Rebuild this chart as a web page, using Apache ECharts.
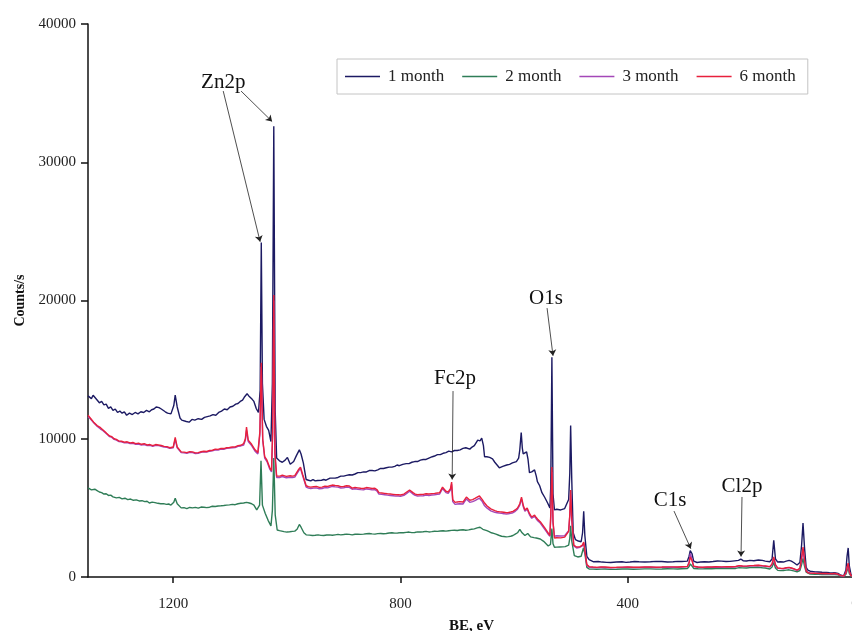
<!DOCTYPE html>
<html>
<head>
<meta charset="utf-8">
<script src="https://cdn.jsdelivr.net/npm/echarts@6/dist/echarts.min.js"></script>
<style>html,body{margin:0;padding:0;background:#fff;overflow:hidden;}#c{width:852px;height:631px;}</style>
</head>
<body>
<div id="c"></div>
<script>
const seriesNames = ['1 month', '2 month', '3 month', '6 month'];
const xTicks = [0, 400, 800, 1200];

const month1 = [[1350,13100],[1347,13000],[1344,12900],[1341,13150],[1338,13050],[1334,12800],[1330,12600],[1326,12700],[1322,12450],[1318,12500],[1314,12200],[1310,12300],[1306,12050],[1302,12150],[1298,11900],[1294,12000],[1290,11850],[1286,11950],[1282,11700],[1277,11850],[1272,11750],[1267,11900],[1262,11800],[1257,11950],[1252,11900],[1247,12050],[1242,11950],[1238,12100],[1234,12150],[1230,12300],[1225,12250],[1221,12150],[1218,12050],[1214,11950],[1210,11850],[1207,11900],[1204,11800],[1199,12400],[1196.5,13150],[1193,12300],[1188,11500],[1185,11350],[1182,11300],[1177,11250],[1172,11200],[1167,11400],[1162,11350],[1156,11450],[1150,11400],[1145,11550],[1140,11600],[1135,11650],[1130,11750],[1125,11700],[1120,11900],[1115,12000],[1110,12150],[1105,12100],[1100,12300],[1095,12350],[1090,12500],[1086,12550],[1082,12700],[1078,12800],[1075,13000],[1072,13100],[1070,13250],[1067,13100],[1064,13000],[1061,12850],[1058,12700],[1054,12200],[1050,11900],[1047,13500],[1045,24200],[1043,14000],[1040,11400],[1036,10900],[1032,10600],[1028,9800],[1025.5,14000],[1023,32600],[1020.5,12000],[1018,8600],[1013,8400],[1008,8300],[1003,8450],[999,8650],[994,8150],[988,8350],[983,8800],[978,9200],[975,8900],[971,8250],[966,7050],[962,7000],[958,6950],[954,7050],[950,6950],[946,6980],[943,6900],[939,7000],[935,7050],[931,7000],[928,7100],[924,7150],[920,7150],[915,7150],[910,7200],[905,7300],[900,7300],[895,7350],[890,7400],[885,7380],[880,7450],[875,7550],[870,7550],[865,7600],[860,7600],[855,7700],[850,7700],[845,7680],[840,7750],[835,7850],[830,7850],[825,7900],[820,7950],[815,7950],[810,8000],[806,8100],[802,8050],[796,8150],[790,8200],[785,8200],[780,8300],[775,8350],[770,8350],[765,8450],[760,8500],[755,8500],[750,8600],[744,8700],[740,8750],[735,8850],[730,8850],[725,8950],[720,9000],[715,9100],[710,9050],[705,9150],[700,9150],[695,9200],[690,9300],[685,9350],[678,9250],[674,9400],[670,9500],[667,9600],[664,9900],[660,9850],[657,10050],[654,9500],[652,8700],[648,8700],[643,8650],[638,8550],[634,8300],[630,8100],[626,7900],[620,8000],[613,8100],[608,8150],[603,8250],[596,8350],[592,8600],[590,9200],[587.5,10450],[585.5,9300],[584,8900],[581,8900],[578,9050],[575.5,8500],[573,7550],[569,7600],[564,7750],[561,7300],[559,6900],[555,6600],[551,6100],[546,5750],[541,5350],[537,5000],[535.5,6500],[533.5,15900],[531.5,6000],[529,4850],[525,4900],[522,4950],[518,4850],[515,4900],[511,4950],[508,5000],[504,5600],[502,7500],[500.5,10950],[498.5,7000],[496,3200],[492,2700],[487,2600],[482,2550],[479.5,3200],[477.5,4750],[475.5,3000],[472,1500],[468,1250],[460,1100],[452,1120],[445,1080],[437,1060],[430,1050],[420,1080],[410,1100],[403,1060],[396,1080],[388,1120],[380,1100],[370,1080],[360,1100],[350,1130],[340,1120],[330,1090],[320,1100],[312,1130],[305,1120],[295,1150],[292,1500],[290,1900],[287,1700],[284,1150],[278,1050],[272,1080],[265,1100],[257,1090],[250,1120],[242,1160],[235,1150],[227,1120],[220,1130],[212,1170],[205,1200],[201,1300],[197,1180],[191,1160],[185,1200],[178,1180],[170,1230],[163,1200],[158,1150],[150,1100],[146,1300],[143,2650],[140,1300],[136,1080],[131,1100],[126,1080],[121,1150],[116,1200],[112,1150],[108,1050],[102,870],[97,1050],[94,2300],[91.5,3900],[89,2200],[86,700],[83,500],[79,420],[76,380],[70,370],[65,360],[58,340],[50,330],[45,310],[40,300],[36,320],[33,330],[30,260],[26,150],[20,80],[16,500],[14,1500],[12,2100],[10,800],[7,150],[3,100]];

const month2 = [[1350,6450],[1347,6380],[1344,6300],[1341,6400],[1338,6350],[1334,6250],[1330,6150],[1326,6100],[1322,6000],[1318,6020],[1314,5900],[1310,5920],[1306,5800],[1303,5850],[1300,5720],[1295,5760],[1290,5650],[1285,5700],[1280,5600],[1275,5640],[1270,5550],[1265,5580],[1260,5500],[1255,5520],[1250,5450],[1246,5480],[1242,5350],[1237,5420],[1232,5380],[1227,5330],[1222,5300],[1217,5310],[1212,5250],[1208,5280],[1204,5200],[1199,5400],[1196.5,5700],[1193,5300],[1186,5000],[1181,5020],[1176,4950],[1171,5030],[1166,5000],[1161,5040],[1156,4980],[1151,5060],[1146,5050],[1141,5020],[1136,5050],[1131,5120],[1126,5100],[1121,5140],[1116,5150],[1111,5170],[1106,5200],[1101,5220],[1096,5250],[1091,5230],[1086,5300],[1081,5330],[1076,5350],[1071,5400],[1066,5350],[1062,5300],[1058,5200],[1053,4850],[1048,5200],[1045.5,8400],[1043,5200],[1038,4600],[1033,4100],[1028,3700],[1025.5,4800],[1023,8600],[1020.5,4500],[1017,3400],[1013,3350],[1010,3300],[1005,3280],[1000,3250],[995,3270],[990,3300],[986,3320],[982,3450],[978,3800],[975,3600],[970,3200],[966,3050],[960,3030],[955,3000],[950,3020],[945,3050],[940,3010],[935,3000],[930,3040],[925,3050],[920,3020],[915,3050],[910,3080],[905,3050],[900,3070],[895,3100],[890,3080],[885,3050],[880,3090],[875,3100],[870,3080],[865,3100],[860,3130],[855,3150],[850,3120],[845,3100],[840,3140],[835,3150],[830,3130],[825,3150],[820,3180],[815,3200],[810,3170],[805,3180],[800,3210],[795,3200],[790,3230],[785,3250],[780,3210],[775,3220],[770,3260],[765,3250],[760,3270],[755,3300],[750,3260],[745,3280],[740,3310],[735,3300],[730,3330],[725,3350],[720,3320],[715,3350],[710,3370],[705,3380],[700,3360],[695,3400],[690,3420],[685,3380],[680,3410],[675,3450],[670,3480],[665,3550],[660,3600],[655,3450],[652,3400],[648,3350],[644,3280],[640,3200],[636,3150],[632,3100],[627,3020],[622,2950],[618,2930],[614,2900],[610,2920],[606,2950],[602,3000],[598,3100],[594,3200],[590,3450],[586,3200],[581,3000],[576,3150],[571,2900],[568,2900],[565,2850],[561,2820],[558,2800],[554,2750],[551,2700],[548,2580],[545,2450],[540,2250],[536,2350],[533.5,3500],[531.5,2400],[529,2150],[525,2160],[520,2170],[515,2180],[510,2200],[507,2210],[504,2300],[502,2800],[500.5,3700],[498.5,2600],[494,1550],[488,1450],[482,1500],[478,2100],[475.5,1700],[472,700],[468,580],[461,570],[455,560],[447,570],[440,580],[430,550],[420,560],[410,575],[400,580],[390,560],[380,570],[370,585],[360,590],[350,570],[340,580],[330,595],[320,590],[312,580],[305,600],[295,610],[292,760],[290,950],[287,800],[284,620],[276,600],[268,590],[260,610],[252,600],[245,620],[235,610],[225,630],[217,610],[210,620],[204,680],[201,760],[198,660],[191,650],[185,680],[178,690],[170,700],[163,670],[158,650],[150,580],[146,720],[143,1050],[140,650],[136,480],[131,460],[126,470],[121,500],[116,520],[112,480],[108,440],[102,380],[97,470],[94,900],[91.5,1350],[89,800],[86,350],[83,220],[79,210],[76,200],[70,195],[65,190],[58,185],[50,180],[45,175],[40,170],[36,185],[33,200],[30,150],[26,90],[20,40],[16,200],[14,450],[12,650],[10,250],[7,60],[3,50]];

const month3 = [[1350,11600],[1346,11450],[1343,11350],[1340,11150],[1337,11050],[1334,10900],[1331,10850],[1328,10700],[1324,10600],[1320,10450],[1316,10300],[1312,10150],[1308,10100],[1304,9950],[1300,9900],[1296,9800],[1291,9780],[1286,9700],[1281,9720],[1276,9650],[1271,9670],[1266,9600],[1261,9620],[1256,9550],[1251,9580],[1246,9500],[1241,9530],[1236,9450],[1231,9520],[1226,9500],[1221,9460],[1216,9400],[1211,9380],[1206,9300],[1200,9350],[1196.5,9950],[1193,9350],[1186,9000],[1181,8980],[1176,8950],[1171,9020],[1166,9000],[1161,8930],[1156,8950],[1151,9010],[1146,9050],[1141,9030],[1136,9100],[1131,9120],[1126,9200],[1121,9180],[1116,9250],[1111,9240],[1106,9300],[1101,9320],[1096,9350],[1091,9360],[1086,9450],[1081,9480],[1076,9550],[1073,9900],[1071,10600],[1068,9800],[1062,9500],[1056,9100],[1051,8900],[1047.5,10300],[1045,15200],[1042.5,9900],[1039,8600],[1035,8350],[1030,7800],[1027,7600],[1025,10300],[1023,20000],[1021,8900],[1018,7200],[1015,7230],[1012,7200],[1008,7270],[1005,7250],[1001,7180],[998,7150],[994,7220],[990,7200],[986,7230],[983,7250],[979,7700],[976,7850],[972,7300],[966,6500],[962,6430],[958,6400],[953,6430],[948,6450],[943,6380],[938,6400],[933,6470],[928,6450],[924,6500],[920,6550],[915,6520],[910,6500],[905,6440],[900,6450],[895,6500],[890,6480],[885,6350],[880,6380],[875,6350],[870,6320],[865,6300],[860,6370],[855,6350],[850,6300],[845,6320],[841,6200],[838,6000],[833,5980],[828,5950],[823,5920],[818,5900],[813,5880],[808,5850],[804,5860],[800,5830],[794,5900],[789,6050],[784,6200],[778,6000],[774,5900],[770,5850],[765,5870],[760,5880],[755,5920],[750,5900],[745,5930],[740,5950],[735,5980],[731,6000],[726,6400],[720,6100],[716,6050],[712,6300],[710,6700],[708,5450],[704,5250],[700,5280],[696,5300],[693,5250],[690,5280],[684,5650],[678,5400],[673,5450],[669,5520],[666,5600],[661,5700],[656,5450],[652,5150],[648,5000],[645,4900],[641,4780],[638,4700],[634,4680],[630,4650],[626,4620],[622,4600],[618,4580],[614,4550],[610,4570],[606,4600],[602,4650],[598,4750],[594,4900],[590,5200],[587,5650],[584,5100],[581,4750],[577,4900],[573,4500],[569,4250],[564,4380],[561,4200],[558,4050],[554,3900],[551,3800],[546,3450],[541,3150],[537,2950],[535.5,4300],[533.5,7600],[531.5,3900],[529,2950],[525,2980],[522,3000],[518,2970],[515,2950],[511,2980],[508,3000],[504,3350],[502,4400],[500.5,6000],[498.5,4100],[495,2250],[490,2100],[484,2150],[480,2250],[477.5,2450],[475,1750],[472,850],[468,700],[461,690],[455,680],[447,700],[440,690],[430,670],[420,680],[410,695],[400,700],[390,685],[380,690],[370,700],[360,710],[350,690],[340,700],[330,715],[320,710],[312,700],[305,720],[295,760],[292,1100],[290,1700],[287,1300],[284,760],[276,700],[268,690],[260,710],[252,700],[245,720],[235,710],[225,730],[217,720],[210,740],[204,800],[201,900],[198,780],[191,770],[185,800],[178,810],[170,830],[163,800],[158,780],[150,730],[146,900],[143,1350],[140,850],[136,630],[131,610],[126,600],[121,650],[116,680],[112,630],[108,580],[102,480],[97,600],[94,1300],[91.5,2000],[89,1200],[86,430],[83,290],[79,280],[76,270],[70,260],[65,250],[58,245],[50,240],[45,235],[40,230],[36,250],[33,260],[30,190],[26,110],[20,50],[16,280],[14,650],[12,950],[10,380],[7,90],[3,70]];

const month6 = [[1350,11700],[1348,11620],[1346,11500],[1343,11420],[1340,11200],[1337,11150],[1334,10950],[1331,10900],[1328,10800],[1324,10650],[1320,10500],[1316,10350],[1312,10200],[1308,10150],[1304,10000],[1300,9950],[1296,9850],[1291,9820],[1286,9750],[1281,9780],[1276,9700],[1271,9730],[1266,9650],[1261,9680],[1256,9600],[1251,9640],[1246,9550],[1241,9580],[1236,9500],[1231,9580],[1226,9550],[1221,9510],[1216,9450],[1211,9430],[1206,9350],[1200,9400],[1196.5,10100],[1193,9400],[1186,9050],[1181,9030],[1176,9000],[1171,9070],[1166,9050],[1161,8980],[1156,9000],[1151,9060],[1146,9100],[1141,9080],[1136,9150],[1131,9170],[1126,9250],[1121,9230],[1116,9300],[1111,9290],[1106,9350],[1101,9370],[1096,9400],[1091,9410],[1086,9500],[1081,9530],[1076,9650],[1073,10000],[1071,10850],[1068,9900],[1062,9600],[1056,9200],[1051,9000],[1047.5,10500],[1045,15500],[1042.5,10000],[1039,8700],[1035,8450],[1030,7900],[1027,7700],[1025,10500],[1023,20400],[1021,9000],[1018,7300],[1015,7330],[1012,7300],[1008,7370],[1005,7350],[1001,7280],[998,7250],[994,7320],[990,7300],[986,7330],[983,7350],[979,7800],[976,7950],[972,7400],[966,6600],[962,6530],[958,6500],[953,6530],[948,6550],[943,6480],[938,6500],[933,6570],[928,6550],[924,6600],[920,6650],[915,6620],[910,6600],[905,6540],[900,6550],[895,6600],[890,6580],[885,6430],[880,6480],[875,6450],[870,6420],[865,6400],[860,6470],[855,6450],[850,6400],[845,6420],[841,6300],[838,6100],[833,6080],[828,6050],[823,6020],[818,6000],[813,5980],[808,5950],[804,5960],[800,5930],[794,6000],[789,6150],[784,6290],[778,6100],[774,6000],[770,5950],[765,5970],[760,5980],[755,6020],[750,6000],[745,6030],[740,6050],[735,6080],[731,6100],[726,6500],[720,6200],[716,6150],[712,6400],[710,6870],[708,5600],[704,5400],[700,5430],[696,5450],[693,5400],[690,5420],[684,5780],[678,5550],[673,5600],[669,5680],[666,5750],[661,5860],[656,5600],[652,5350],[648,5150],[645,5050],[641,4930],[638,4850],[634,4800],[630,4750],[626,4720],[622,4700],[618,4680],[614,4650],[610,4670],[606,4700],[602,4750],[598,4850],[594,4990],[590,5300],[587,5780],[584,5200],[581,4840],[577,4990],[573,4600],[569,4340],[564,4480],[561,4300],[558,4150],[554,4000],[551,3900],[546,3550],[541,3250],[537,3000],[535.5,4500],[533.5,7950],[531.5,4000],[529,2820],[525,2840],[522,2850],[518,2830],[515,2850],[511,2880],[508,2900],[504,3300],[502,4500],[500.5,6300],[498.5,4200],[495,2300],[490,2170],[484,2200],[480,2300],[477.5,2530],[475,1800],[472,900],[468,750],[461,720],[455,700],[447,730],[440,720],[430,690],[420,700],[410,715],[400,720],[390,700],[380,710],[370,720],[360,730],[350,710],[340,720],[330,735],[320,730],[312,720],[305,740],[295,760],[292,1000],[290,1450],[287,1200],[284,780],[276,720],[268,710],[260,730],[252,720],[245,740],[235,730],[225,750],[217,740],[210,760],[204,820],[201,950],[198,800],[191,790],[185,820],[178,830],[170,850],[163,820],[158,800],[150,750],[146,950],[143,1450],[140,900],[136,650],[131,630],[126,620],[121,670],[116,700],[112,650],[108,600],[102,500],[97,620],[94,1400],[91.5,2170],[89,1300],[86,450],[83,300],[79,290],[76,280],[70,270],[65,260],[58,255],[50,250],[45,245],[40,240],[36,260],[33,270],[30,200],[26,120],[20,60],[16,300],[14,700],[12,1000],[10,400],[7,100],[3,80]];

// annotation labels: [text, textBE, textCounts]
const labelTexts = [['Zn2p', 1112, 35800], ['Fc2p', 704, 14390], ['O1s', 543.8, 20180], ['C1s', 325.6, 5570], ['Cl2p', 198.9, 6580]];
// arrows: [fromBE, fromCounts, toBE, toCounts]
const arrows = [[1112, 35150, 1047, 24250], [1080.6, 35150, 1026, 32950], [707.5, 13450, 709, 7050], [542, 19450, 531.5, 16000], [318.6, 4770, 289, 2050], [198.9, 5790, 200.6, 1480]];

const colors = ['#1c1a63', '#2f7d57', '#a447b8', '#e8203c'];
const FONT = 'Liberation Serif';

const chart = echarts.init(document.getElementById('c'), null, {renderer: 'canvas'});
const dataSets = [month1, month2, month3, month6];

const series = dataSets.map((d, i) => ({
  name: seriesNames[i],
  type: 'line',
  data: d,
  symbol: 'none',
  showSymbol: false,
  lineStyle: {width: 1.4, color: colors[i]},
  itemStyle: {color: colors[i]},
  z: 2 + i,
  animation: false
}));

series[0].markLine = {
  silent: true,
  symbol: ['none', 'arrow'],
  symbolSize: 6,
  label: {show: false},
  lineStyle: {color: '#222', width: 0.8, type: 'solid'},
  animation: false,
  data: arrows.map(a => [{coord: [a[0], a[1]]}, {coord: [a[2], a[3]]}])
};
series[0].markPoint = {
  silent: true,
  symbol: 'circle',
  symbolSize: 1,
  itemStyle: {color: 'rgba(0,0,0,0)'},
  animation: false,
  label: {show: true, position: 'inside', formatter: p => p.name, fontFamily: FONT, fontSize: 21, color: '#111'},
  data: labelTexts.map(t => ({name: t[0], coord: [t[1], t[2]]}))
};

chart.setOption({
  backgroundColor: '#fff',
  animation: false,
  grid: {left: 88, width: 767, top: 24, height: 553, containLabel: false, outerBoundsMode: 'none'},
  legend: {
    data: seriesNames.map(n => ({name: n, icon: 'rect'})),
    left: 337, top: 59,
    itemWidth: 35, itemHeight: 1.5, itemGap: 18,
    padding: [9, 12, 9, 8],
    borderColor: '#c4c4c4', borderWidth: 1,
    textStyle: {fontFamily: FONT, fontSize: 17, color: '#222', padding: [0, 0, 0, 3]}
  },
  xAxis: {
    type: 'value', inverse: true, min: 0, max: 1350,
    name: 'BE, eV', nameLocation: 'middle', nameGap: 42,
    nameTextStyle: {fontFamily: FONT, fontSize: 15, fontWeight: 'bold', color: '#111'},
    axisLine: {show: true, onZero: false, lineStyle: {color: '#111', width: 1.5}},
    axisTick: {show: true, inside: false, length: 6, customValues: xTicks, lineStyle: {color: '#111', width: 1.5}},
    axisLabel: {customValues: xTicks, margin: 20, fontFamily: FONT, fontSize: 15, color: '#222', formatter: v => String(v)},
    splitLine: {show: false}
  },
  yAxis: {
    type: 'value', min: 0, max: 40000, interval: 10000, position: 'left',
    name: 'Counts/s', nameLocation: 'middle', nameGap: 60, nameRotate: 90,
    nameTextStyle: {fontFamily: FONT, fontSize: 14, fontWeight: 'bold', color: '#111'},
    axisLine: {show: true, onZero: false, lineStyle: {color: '#111', width: 1.5}},
    axisTick: {show: true, inside: false, length: 7, lineStyle: {color: '#111', width: 1.5}},
    axisLabel: {margin: 12, fontFamily: FONT, fontSize: 15, color: '#222', formatter: v => String(v)},
    splitLine: {show: false}
  },
  series: series
});
</script>
</body>
</html>
